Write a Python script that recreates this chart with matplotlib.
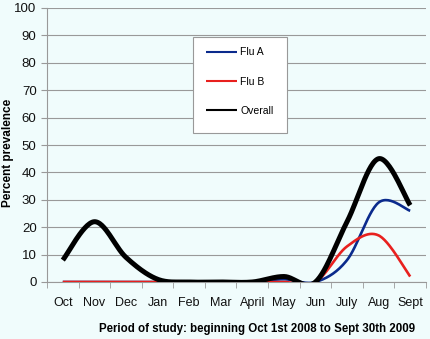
import numpy as np
import matplotlib
matplotlib.use("Agg")
import matplotlib.pyplot as plt
from matplotlib.patches import Rectangle

plt.rcParams["font.family"] = ["Liberation Sans", "DejaVu Sans"]

months = ["Oct", "Nov", "Dec", "Jan", "Feb", "Mar", "April", "May", "Jun", "July", "Aug", "Sept"]
flu_a = [0, 0, 0, 0, 0, 0, 0, 1, 0, 8, 29, 26]
flu_b = [0, 0, 0, 0, 0, 0, 0, 0, 0, 13, 17, 2]
overall = [8, 22, 9, 1, 0, 0, 0, 2, 0, 22, 45, 28]


def smooth(y, n=30):
    # Excel-style smoothed line (Catmull-Rom bezier)
    x = np.arange(len(y), dtype=float)
    y = np.asarray(y, dtype=float)
    xs, ys = [], []
    for i in range(len(y) - 1):
        p0 = i - 1 if i > 0 else i
        p3 = i + 2 if i + 2 < len(y) else i + 1
        c1x = x[i] + (x[i + 1] - x[p0]) / 6
        c1y = y[i] + (y[i + 1] - y[p0]) / 6
        c2x = x[i + 1] - (x[p3] - x[i]) / 6
        c2y = y[i + 1] - (y[p3] - y[i]) / 6
        t = np.linspace(0, 1, n)
        bx = (1 - t) ** 3 * x[i] + 3 * (1 - t) ** 2 * t * c1x + 3 * (1 - t) * t ** 2 * c2x + t ** 3 * x[i + 1]
        by = (1 - t) ** 3 * y[i] + 3 * (1 - t) ** 2 * t * c1y + 3 * (1 - t) * t ** 2 * c2y + t ** 3 * y[i + 1]
        xs.extend(bx)
        ys.extend(by)
    return np.array(xs), np.array(ys)


bg = "#F0FCFC"
grey = "#999999"
fig = plt.figure(figsize=(4.3, 3.39), dpi=100, facecolor=bg)
ax = fig.add_axes([47 / 430, 57 / 339, 379 / 430, 274 / 339])
ax.set_facecolor(bg)

x = np.arange(len(months))
for vals, col, lw, lab in [(flu_a, "#0A2A8C", 1.9, "Flu A"),
                           (flu_b, "#E8201E", 1.9, "Flu B"),
                           (overall, "black", 3.6, "Overall")]:
    sx, sy = smooth(vals)
    ax.plot(sx, sy, color=col, lw=lw, label=lab, solid_capstyle="butt", zorder=3)

ax.set_xlim(-0.5, len(months) - 0.5)
ax.set_ylim(0, 100)
ax.set_yticks(range(0, 101, 10))
ax.set_xticks(x)
ax.set_xticklabels(months)
ax.set_xticks(np.arange(-0.5, len(months), 1), minor=True)
ax.tick_params(axis="x", which="major", length=0, pad=11, labelsize=9, labelcolor="#111111")
ax.tick_params(axis="x", which="minor", length=4, color=grey, direction="out")
ax.tick_params(axis="y", length=4, color=grey, labelsize=9.5, labelcolor="#111111")
ax.grid(axis="y", color=grey, lw=0.8)
ax.set_axisbelow(True)
for s in ["top", "right"]:
    ax.spines[s].set_visible(False)
for s in ["left", "bottom"]:
    ax.spines[s].set_color(grey)

ax.set_ylabel("Percent prevalence", fontsize=8.5, fontweight="bold")
ax.yaxis.set_label_coords(-0.088, 0.47)
ax.set_xlabel("Period of study: beginning Oct 1st 2008 to Sept 30th 2009",
              fontsize=8.3, fontweight="bold")
ax.xaxis.set_label_coords(0.97, -0.148)
ax.xaxis.label.set_horizontalalignment("right")

# legend box
ax.add_patch(Rectangle((0.385, 0.544), 0.248, 0.35, transform=ax.transAxes,
                       facecolor="white", edgecolor=grey, lw=0.8, zorder=4))
leg = ax.legend(loc="upper left", bbox_to_anchor=(0.4195, 0.856), fontsize=7.5,
                frameon=False, handlelength=3.0, labelspacing=1.85,
                borderpad=0, handletextpad=0.3, borderaxespad=0)
leg.set_zorder(5)
for h in leg.get_lines():
    h.set_linewidth(1.5)

fig.savefig("out.png", dpi=100, facecolor=bg)
